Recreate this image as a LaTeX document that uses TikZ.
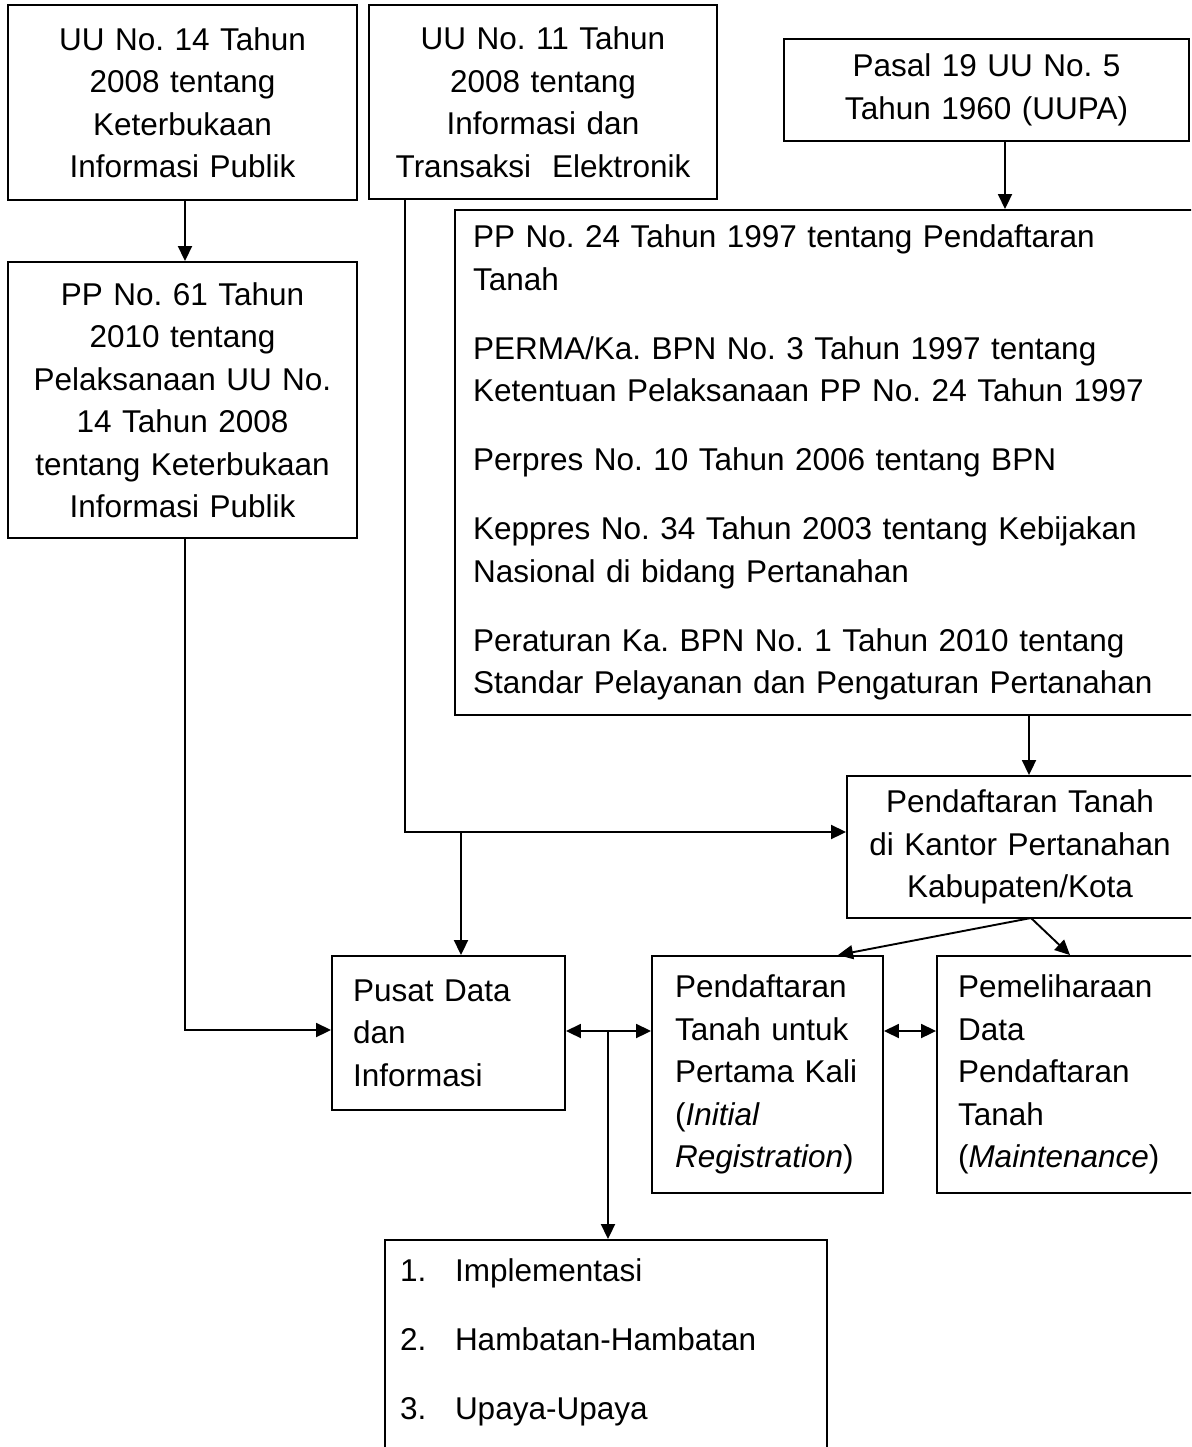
\documentclass[tikz,border=0pt]{standalone}
\usepackage{fontspec}
\setmainfont{Liberation Sans}
\usetikzlibrary{arrows.meta}
\begin{document}
\frenchspacing
\begin{tikzpicture}[x=1pt,y=-1pt,
  box/.style={draw,line width=1.9pt,font=\fontsize{31.5}{42.5}\selectfont\frenchspacing,inner ysep=0pt},
  cbox/.style={box,align=center},
  lbox/.style={box,align=left},
  arr/.style={line width=1.9pt,-{Triangle[length=15pt,width=14pt]}},
  darr/.style={line width=1.9pt,{Triangle[length=15pt,width=14pt]}-{Triangle[length=15pt,width=14pt]}}]
\useasboundingbox (0,0) rectangle (1191,1447);
\clip (0,0) rectangle (1191,1447);
% nodes
\node[cbox,inner xsep=10pt,text width=329pt,minimum height=195pt] (u14) at (182.5,102.5)
  {UU No. 14 Tahun\\2008 tentang\\Keterbukaan\\Informasi Publik};
\node[cbox,inner xsep=10pt,text width=328pt,minimum height=194pt] (u11) at (543,102)
  {UU No. 11 Tahun\\2008 tentang\\Informasi dan\\Transaksi\ \ Elektronik};
\node[cbox,inner xsep=10pt,text width=385pt,minimum height=102pt] (pasal) at (986.5,90)
  {Pasal 19 UU No. 5\\Tahun 1960 (UUPA)};
\node[cbox,inner xsep=10pt,text width=329pt,minimum height=276pt] (pp61) at (182.5,400)
  {PP No. 61 Tahun\\2010 tentang\\Pelaksanaan UU No.\\14 Tahun 2008\\tentang Keterbukaan\\Informasi Publik};
\node[lbox,inner xsep=18pt,text width=714pt,minimum height=505pt] (big) at (830,462.5)
  {PP No. 24 Tahun 1997 tentang Pendaftaran\\Tanah\\[26.5pt]
   PERMA/Ka. BPN No. 3 Tahun 1997 tentang\\Ketentuan Pelaksanaan PP No. 24 Tahun 1997\\[26.5pt]
   Perpres No. 10 Tahun 2006 tentang BPN\\[26.5pt]
   Keppres No. 34 Tahun 2003 tentang Kebijakan\\Nasional di bidang Pertanahan\\[26.5pt]
   Peraturan Ka. BPN No. 1 Tahun 2010 tentang\\Standar Pelayanan dan Pengaturan Pertanahan};
\node[cbox,inner xsep=5pt,text width=336pt,minimum height=142pt] (pend) at (1020,847)
  {Pendaftaran Tanah\\di Kantor Pertanahan\\Kabupaten/Kota};
\node[lbox,inner xsep=21pt,text width=191pt,minimum height=154pt] (pusat) at (448.5,1033)
  {Pusat Data\\dan\\Informasi};
\node[lbox,inner xsep=23pt,text width=185pt,minimum height=237pt] (init) at (767.5,1074.5)
  {Pendaftaran\\Tanah untuk\\Pertama Kali\\(\textit{Initial}\\\textit{Registration})};
\node[lbox,inner xsep=21pt,text width=231pt,minimum height=237pt] (maint) at (1073.5,1074.5)
  {Pemeliharaan\\Data\\Pendaftaran\\Tanah\\(\textit{Maintenance})};
\node[lbox,inner xsep=15pt,text width=412pt,minimum height=260pt] (res) at (606,1370)
  {\makebox[55pt][l]{1.}Implementasi\\[26.5pt]
   \makebox[55pt][l]{2.}Hambatan-Hambatan\\[26.5pt]
   \makebox[55pt][l]{3.}Upaya-Upaya\\[19.5pt]\mbox{}};
% junction coordinates
\coordinate (xa) at (1005,0);
\coordinate (xb) at (1029,0);
\coordinate (j1) at (405,832);
\coordinate (j2) at (461,832);
\coordinate (j3) at (185,1030);
\coordinate (j4) at (608,1031);
\coordinate (ps) at (1031,918);
\coordinate (ti) at (838,0);
\coordinate (tm) at (1070,0);
% connectors
\draw[arr] (u14.south -| j3) -- (pp61.north -| j3);
\draw[arr] (pasal.south -| xa) -- (big.north -| xa);
\draw[arr] (big.south -| xb) -- (pend.north -| xb);
\draw[arr] (u11.south -| j1) -- (j1) -- (j1 -| pend.west);
\draw[arr] (j2) -- (pusat.north -| j2);
\draw[arr] (pp61.south -| j3) -- (j3) -- (j3 -| pusat.west);
\draw[darr] (pusat.east |- j4) -- (init.west |- j4);
\draw[arr] (j4) -- (res.north -| j4);
\draw[darr] (init.east |- j4) -- (maint.west |- j4);
\draw[arr] (ps) -- (init.north -| ti);
\draw[arr] (ps) -- (maint.north -| tm);
\end{tikzpicture}
\end{document}
